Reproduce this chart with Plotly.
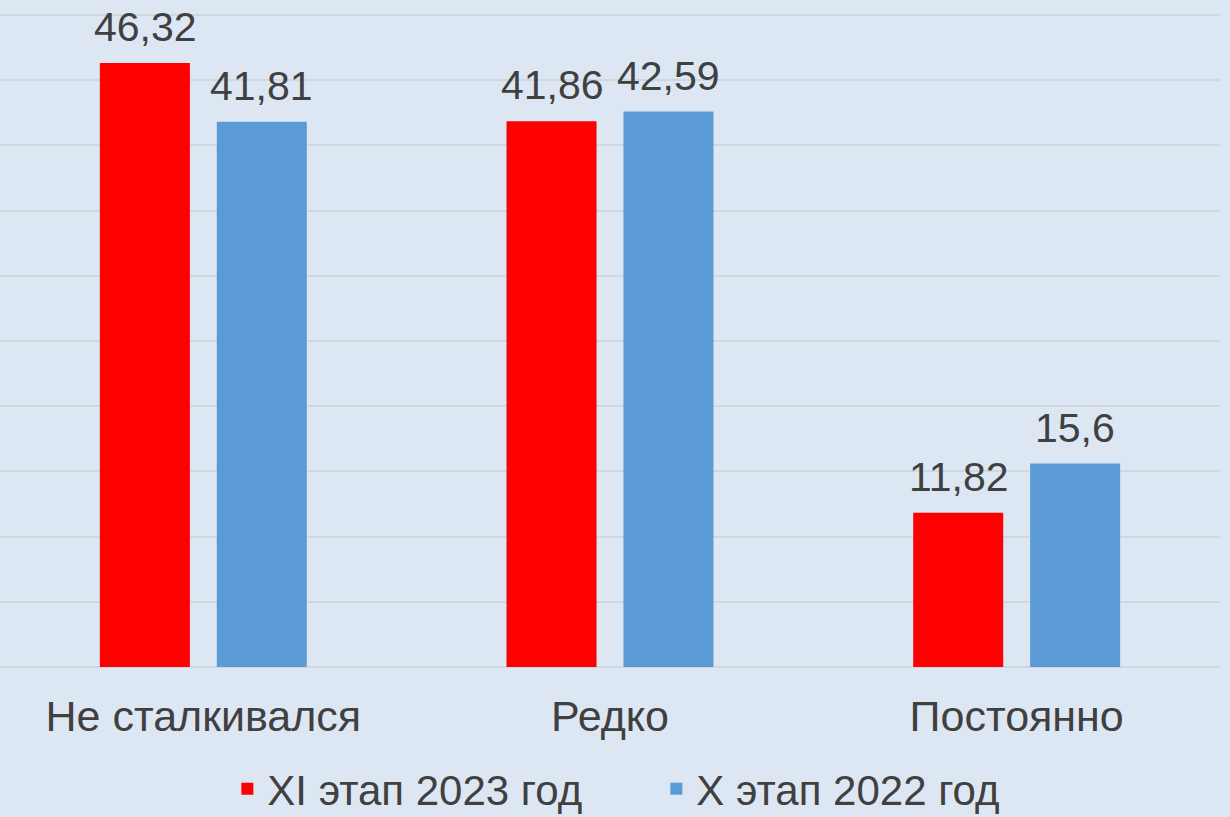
import plotly.graph_objects as go

categories = ["Не сталкивался", "Редко", "Постоянно"]
series_2023 = [46.32, 41.86, 11.82]
series_2022 = [41.81, 42.59, 15.6]
series_names = ["XI этап 2023 год", "X этап 2022 год"]
colors = ["#ff0000", "#5b9bd5"]

FONT = "Liberation Sans, Arial, sans-serif"
TEXT_COLOR = "#404040"


def fmt(v):
    return ("%g" % v).replace(".", ",")


fig = go.Figure()
for name, vals, col in zip(series_names, [series_2023, series_2022], colors):
    fig.add_trace(go.Bar(
        x=categories, y=vals, name=name,
        marker=dict(color=col, line=dict(width=0)),
        hoverinfo="skip",
    ))

offsets = [-58, 58]
annotations = []
for off, vals in zip(offsets, [series_2023, series_2022]):
    for c, v in zip(categories, vals):
        annotations.append(dict(
            x=c, y=v, xref="x", yref="y", text=fmt(v), showarrow=False,
            xshift=off, yshift=11, yanchor="bottom",
            font=dict(family=FONT, size=41, color=TEXT_COLOR),
        ))

fig.update_layout(
    width=1230, height=817,
    margin=dict(l=0, r=10, t=0, b=150, pad=0, autoexpand=False),
    paper_bgcolor="#dde7f4",
    plot_bgcolor="#dde7f4",
    barmode="group",
    bargap=0.425,
    bargroupgap=0.23,
    showlegend=True,
    legend=dict(
        orientation="h", x=0.538, xanchor="center",
        yref="container", y=0.076, yanchor="top",
        font=dict(family=FONT, size=42, color=TEXT_COLOR),
        bgcolor="rgba(0,0,0,0)", itemwidth=30, tracegroupgap=0,
        entrywidth=384,
    ),
    annotations=annotations,
    font=dict(family=FONT, color=TEXT_COLOR),
)
fig.update_xaxes(
    showgrid=False, showline=False, zeroline=False, ticks="",
    tickfont=dict(family=FONT, size=43, color=TEXT_COLOR),
    ticklabelstandoff=20,
)
fig.update_yaxes(
    range=[0, 51.15], dtick=5, showticklabels=False,
    showgrid=True, gridcolor="#cfd7e1", gridwidth=2,
    zeroline=True, zerolinecolor="#cfd7e1", zerolinewidth=2,
    showline=False, ticks="",
)

fig.write_html("out.html", config={"displayModeBar": False},
               post_script="document.body.style.margin='0';")
